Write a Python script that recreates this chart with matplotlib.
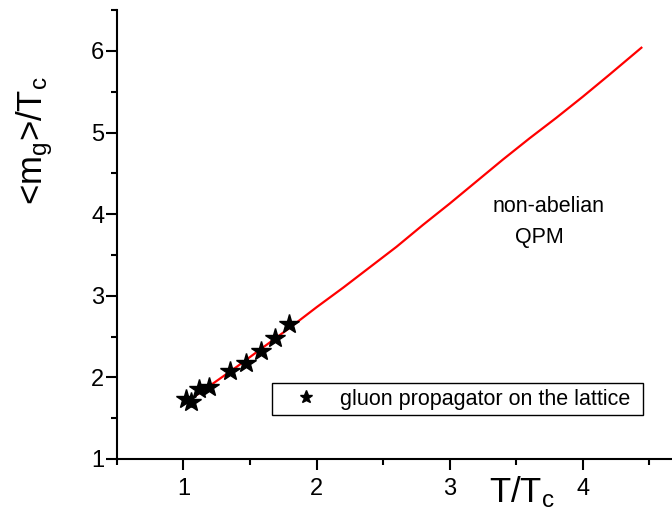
import matplotlib
matplotlib.use('Agg')
import matplotlib.pyplot as plt
from matplotlib.ticker import MultipleLocator

plt.rcParams['font.family'] = ['Liberation Sans', 'DejaVu Sans']
plt.rcParams['mathtext.fontset'] = 'custom'
plt.rcParams['mathtext.rm'] = 'Liberation Sans'
plt.rcParams['mathtext.it'] = 'Liberation Sans'

# non-abelian QPM curve
qpm_t = [1.0, 1.2, 1.4, 1.6, 1.8, 2.0, 2.2, 2.4, 2.6, 2.8, 3.0, 3.2, 3.4,
         3.6, 3.8, 4.0, 4.2, 4.44]
qpm_m = [1.67, 1.90, 2.13, 2.37, 2.61, 2.86, 3.10, 3.35, 3.60, 3.87, 4.13,
         4.40, 4.67, 4.93, 5.18, 5.44, 5.71, 6.04]

# lattice points
lat_t = [1.02, 1.06, 1.12, 1.195, 1.35, 1.47, 1.58, 1.69, 1.79]
lat_m = [1.735, 1.70, 1.86, 1.88, 2.08, 2.18, 2.32, 2.48, 2.65]

fig = plt.figure(figsize=(6.72, 5.28), dpi=100)
ax = fig.add_axes([0.174, 0.1307, 0.826, 0.850])

ax.plot(qpm_t, qpm_m, color='red', lw=1.6)
ax.plot(lat_t, lat_m, ls='none', marker='*', color='black', ms=15,
        label='gluon propagator on the lattice')

ax.set_xlim(0.5, 4.67)
ax.set_ylim(1, 6.5)
ax.xaxis.set_major_locator(MultipleLocator(1))
ax.xaxis.set_minor_locator(MultipleLocator(0.5))
ax.yaxis.set_major_locator(MultipleLocator(1))
ax.yaxis.set_minor_locator(MultipleLocator(0.5))
ax.set_xticks([1, 2, 3, 4])
ax.tick_params(which='major', direction='out', length=8, width=1.5, labelsize=17)
ax.tick_params(axis='x', which='major', pad=6)
ax.tick_params(axis='y', which='major', pad=1)
ax.tick_params(which='minor', direction='out', length=4, width=1.5)
for s in ['top', 'right']:
    ax.spines[s].set_visible(False)
for s in ['left', 'bottom']:
    ax.spines[s].set_linewidth(1.5)

ax.set_xlabel(r'T/T$_\mathrm{c}$', fontsize=25)
ax.xaxis.set_label_coords(0.73, -0.035, transform=ax.transAxes)
ax.xaxis.label.set_va('top')
ax.set_ylabel(r'<m$_\mathrm{g}$>/T$_\mathrm{c}$', fontsize=25)
ax.yaxis.set_label_coords(-0.112, 0.71)

ax.text(3.32, 4.03, 'non-abelian', fontsize=15.5, va='baseline')
ax.text(3.49, 3.65, 'QPM', fontsize=15.5, va='baseline')

leg = ax.legend(loc='lower left', bbox_to_anchor=(0.279, 0.098, 0.668, 0.076),
                mode='expand', borderaxespad=0, fontsize=15.5, markerscale=0.65,
                fancybox=False, edgecolor='black', framealpha=1,
                handlelength=2.7, handletextpad=0.2, borderpad=0.25)
leg.get_frame().set_linewidth(1.0)

fig.savefig('out.png', dpi=100)
